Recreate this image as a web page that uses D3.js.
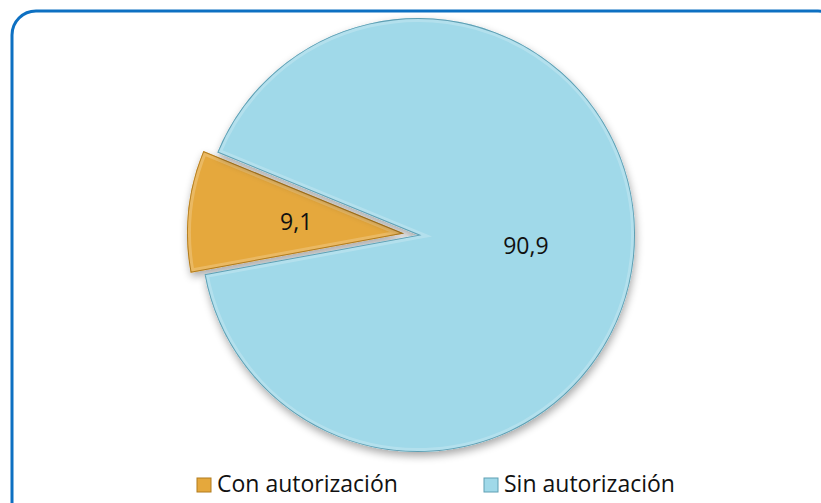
<!DOCTYPE html>
<html lang="es">
<head>
    <meta charset="UTF-8">
    <script src="https://cdn.jsdelivr.net/npm/d3@7"></script>
    <title>Autorización</title>
    <style>
        body { margin: 0px; background: #fff; }
        svg { display: block; }
        text { font-family: "Open Sans", "Noto Sans", sans-serif; fill: #111; }
    </style>
</head>
<body>
    <svg id="chart" width="821" height="503"></svg>
    <script>
        // data
        const categories = ["Con autorización", "Sin autorización"];
        const values = [9.1, 90.9];
        const valueLabels = ["9,1", "90,9"];
        const colors = ["#E5A83C", "#A0D9E9"];
        const edgeColors = ["#B27C1E", "#5F9FB3"];

        const svg = d3.select('#chart');
        const defs = svg.append('defs');

        // drop shadow under the pie
        const sh = defs.append('filter').attr('id', 'shadow')
            .attr('x', '-20%').attr('y', '-20%').attr('width', '140%').attr('height', '140%');
        sh.append('feGaussianBlur').attr('in', 'SourceAlpha').attr('stdDeviation', 4);
        sh.append('feOffset').attr('dx', 1).attr('dy', 4).attr('result', 'blur');
        sh.append('feComponentTransfer').append('feFuncA').attr('type', 'linear').attr('slope', 0.35);
        const m = sh.append('feMerge');
        m.append('feMergeNode');
        m.append('feMergeNode').attr('in', 'SourceGraphic');

        // frame
        svg.append('rect')
            .attr('x', 12).attr('y', 11)
            .attr('width', 830).attr('height', 520)
            .attr('rx', 24)
            .attr('fill', '#fff')
            .attr('stroke', '#0D70C2')
            .attr('stroke-width', 3);

        const cx = 418, cy = 235, r = 217, explode = 14;
        const a0 = 259.6 * Math.PI / 180;
        const pie = d3.pie().sort(null).startAngle(a0).endAngle(a0 + 2 * Math.PI);
        const arcs = pie(values);
        const arc = d3.arc().innerRadius(0).outerRadius(r);

        const g = svg.append('g').attr('transform', `translate(${cx},${cy})`);

        const slice = g.selectAll('g.slice')
            .data(arcs)
            .enter()
            .append('g')
            .attr('class', 'slice')
            .attr('transform', (d, i) => {
                if (i != 0) return null;
                const mid = (d.startAngle + d.endAngle) / 2;
                return `translate(${Math.sin(mid) * explode},${-Math.cos(mid) * explode})`;
            });

        slice.append('clipPath')
            .attr('id', (d, i) => 'clip' + i)
            .append('path')
            .attr('d', arc);

        slice.append('path')
            .attr('d', arc)
            .attr('fill', (d, i) => colors[i])
            .attr('filter', 'url(#shadow)');

        // bevel: soft inner rim + dark edge
        slice.append('path')
            .attr('d', arc)
            .attr('fill', 'none')
            .attr('stroke', '#fff')
            .attr('stroke-opacity', 0.2)
            .attr('stroke-width', 8)
            .attr('clip-path', (d, i) => `url(#clip${i})`);
        slice.append('path')
            .attr('d', arc)
            .attr('fill', 'none')
            .attr('stroke', (d, i) => edgeColors[i])
            .attr('stroke-width', 2)
            .attr('clip-path', (d, i) => `url(#clip${i})`);

        slice.append('text')
            .attr('transform', d => `translate(${arc.centroid(d)})`)
            .attr('text-anchor', 'middle')
            .attr('dy', '0.35em')
            .attr('font-size', 23)
            .text((d, i) => valueLabels[i]);

        // legend
        const legendX = [197, 484];
        const leg = svg.append('g')
            .selectAll('g')
            .data(categories)
            .enter()
            .append('g')
            .attr('transform', (d, i) => `translate(${legendX[i]},478)`);
        leg.append('rect')
            .attr('width', 14).attr('height', 14)
            .attr('fill', (d, i) => colors[i])
            .attr('stroke', (d, i) => edgeColors[i])
            .attr('stroke-width', 1);
        leg.append('text')
            .attr('x', 20).attr('y', 14)
            .attr('font-size', 23)
            .text(d => d);
    </script>
</body>
</html>
